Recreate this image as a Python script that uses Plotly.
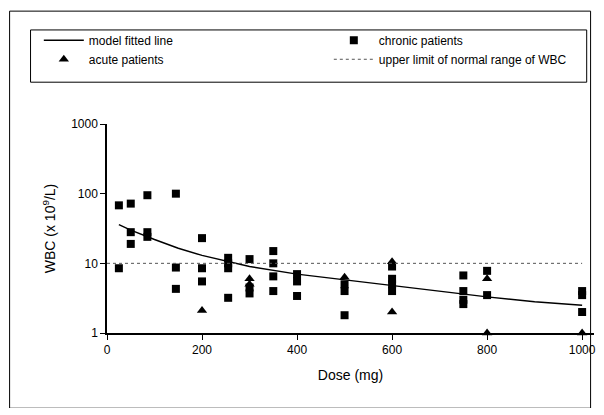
import plotly.graph_objects as go

chronic_x = [25,25,50,50,50,85,85,85,145,145,145,200,200,200,255,255,255,255,300,300,300,350,350,350,350,400,400,400,500,500,500,600,600,600,600,750,750,750,750,800,800,1000,1000,1000]
chronic_y = [68,8.5,72,28,19,95,28,24,100,8.7,4.3,23,8.5,5.5,12,10,8.5,3.2,11.5,4.5,3.7,15,10,6.5,4,7,5.5,3.4,5,4,1.8,9,6,5,4,6.7,4,3,2.6,7.8,3.5,4,3.5,2]
acute_x = [200,300,300,500,600,600,800,800,1000]
acute_y = [2.1,6,5,6.3,10.5,2,6,1,1]
fit_x = [25,50,100,150,200,300,400,500,600,700,800,900,1000]
fit_y = [36,30,22,16.5,13,9,7,5.8,4.8,4,3.3,2.8,2.5]
normal_x = [0,1000]
normal_y = [10,10]

fig = go.Figure()
fig.add_trace(go.Scatter(x=fit_x, y=fit_y, mode="lines", line=dict(color="black", width=1.5), name="model fitted line", cliponaxis=False))
fig.add_trace(go.Scatter(x=chronic_x, y=chronic_y, mode="markers", marker=dict(symbol="square", color="black", size=8), name="chronic patients", cliponaxis=False))
fig.add_trace(go.Scatter(x=acute_x, y=acute_y, mode="markers", marker=dict(symbol="triangle-up", color="black", size=9), name="acute patients", cliponaxis=False))
fig.add_trace(go.Scatter(x=normal_x, y=normal_y, mode="lines", line=dict(color="#555", width=1, dash="dot"), name="upper limit of normal range of WBC"))

ax = dict(showline=True, linecolor="black", linewidth=1.5, ticks="outside", tickcolor="black", showgrid=False, zeroline=False,
          tickfont=dict(family="Liberation Sans", size=12, color="black"), automargin=False)
fig.update_layout(
    width=590, height=400, plot_bgcolor="white", paper_bgcolor="white",
    margin=dict(l=99, r=4, t=116, b=75, autoexpand=False),
    font=dict(family="Liberation Sans", size=12, color="black"),
    xaxis=dict(range=[0,1025], tickvals=[0,200,400,600,800,1000], title=dict(text="Dose (mg)", standoff=14), **ax),
    yaxis=dict(type="log", range=[0,3], tickvals=[1,10,100,1000], ticktext=["1","10","100","1000"],
               title=dict(text="WBC (x 10<sup>9</sup>/L)", standoff=12), **ax),
    legend=dict(orientation="h", x=-0.14, y=1.47, xanchor="left", yanchor="top",
                traceorder="normal", entrywidth=235, font=dict(size=12), bgcolor="rgba(0,0,0,0)",
                tracegroupgap=0, itemwidth=40),
    shapes=[
        dict(type="rect", xref="paper", yref="paper", x0=-0.2, x1=0.993, y0=-0.36, y1=1.54, line=dict(color="black", width=1)),
        dict(type="rect", xref="paper", yref="paper", x0=-0.157, x1=0.985, y0=1.2, y1=1.45, line=dict(color="black", width=1)),
    ],
)
fig.write_html("out.html")
